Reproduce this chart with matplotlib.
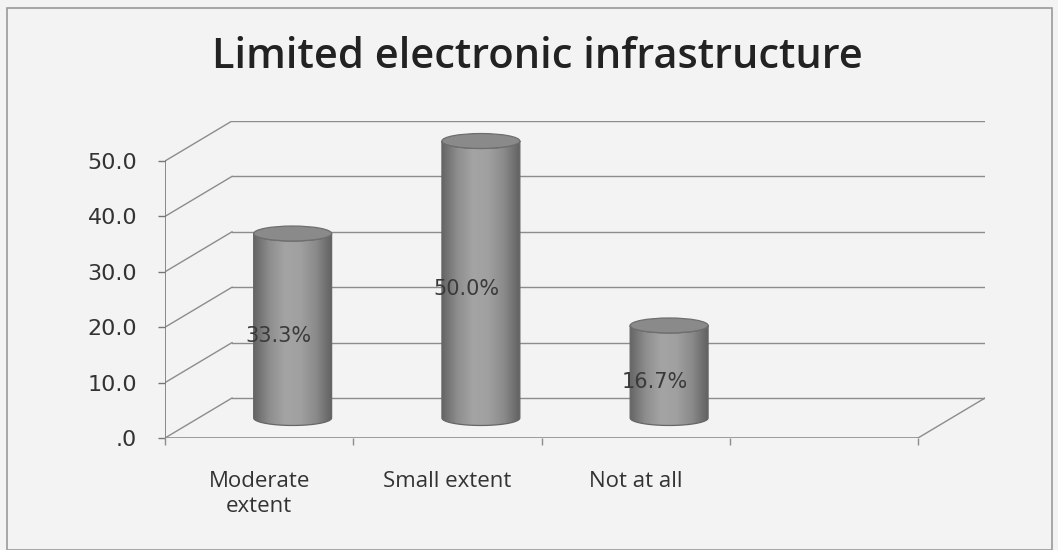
import numpy as np
import matplotlib
matplotlib.use("Agg")
import matplotlib.pyplot as plt
from matplotlib.patches import Polygon, Ellipse, Rectangle
from matplotlib.colors import LinearSegmentedColormap

# data
categories = ["Moderate\nextent", "Small extent", "Not at all"]
values = [33.3, 50.0, 16.7]
value_labels = ["33.3%", "50.0%", "16.7%"]
y_ticks = [0, 10, 20, 30, 40, 50]
y_tick_labels = [".0", "10.0", "20.0", "30.0", "40.0", "50.0"]
title = "Limited electronic infrastructure"

n_slots = 4          # the chart keeps an empty fourth slot
depth_x = 0.356      # 3D depth offset in category units
depth_y = 7.22       # 3D depth offset in value units
cyl_half_w = 0.207
cyl_ell = 1.35

W, H = 1058, 550
fig = plt.figure(figsize=(W / 100, H / 100), dpi=100)
fig.patch.set_facecolor("#f3f3f3")

# outer frame
fig.patches.append(Rectangle((7 / W, 0), (1052 - 7) / W, (H - 8) / H,
                             transform=fig.transFigure, fill=False,
                             edgecolor="#9a9a9a", lw=1.2))

x0, y0, px_cat, px_val = 165, 438, 188.25, 5.54
xmax = n_slots + depth_x
ymax = 50 + depth_y
ax = fig.add_axes([x0 / W, (H - y0) / H, xmax * px_cat / W, ymax * px_val / H])
ax.set_facecolor("none")
for s in ax.spines.values():
    s.set_visible(False)

grid_c = "#8c8c8c"
# back wall gridlines and left wall diagonals
for v in y_ticks:
    ax.plot([depth_x, n_slots + depth_x], [v + depth_y, v + depth_y], color=grid_c, lw=1, zorder=1)
    ax.plot([0, depth_x], [v, v + depth_y], color=grid_c, lw=1, zorder=1)
# floor and front axis
ax.plot([0, n_slots], [0, 0], color=grid_c, lw=1.2, zorder=1)
ax.plot([n_slots, n_slots + depth_x], [0, depth_y], color=grid_c, lw=1, zorder=1)
ax.plot([0, 0], [0, 50], color="#777777", lw=1.2, zorder=1)

cmap = LinearSegmentedColormap.from_list(
    "cyl", ["#666666", "#8e8e8e", "#a4a4a4", "#a0a0a0", "#8a8a8a", "#626262"])
grad = np.linspace(0, 1, 200).reshape(1, -1)

t = np.linspace(0, np.pi, 60)
for i, (v, lab) in enumerate(zip(values, value_labels)):
    cx = i + 0.5 + depth_x / 2
    base = depth_y / 2
    top = base + v
    bx = cx - cyl_half_w * np.cos(t)
    by = base - cyl_ell * np.sin(t)
    tx = cx + cyl_half_w * np.cos(t)
    ty = top - cyl_ell * np.sin(t)
    pts = np.column_stack([np.concatenate([bx, tx]), np.concatenate([by, ty])])
    body = Polygon(pts, closed=True, facecolor="none", edgecolor="#666666", lw=0.9, zorder=4)
    ax.add_patch(body)
    im = ax.imshow(grad, cmap=cmap, aspect="auto", zorder=3,
                   extent=(cx - cyl_half_w, cx + cyl_half_w, base - cyl_ell, top + cyl_ell))
    im.set_clip_path(body)
    ax.add_patch(Ellipse((cx, top), 2 * cyl_half_w, 2 * cyl_ell, facecolor="#8a8a8a",
                         edgecolor="#6e6e6e", lw=0.9, zorder=5))
    ax.text(cx - 0.075, base + v / 2 - 1.8, lab, ha="center", va="center",
            fontsize=15, color="#3a3a3a", family="DejaVu Sans", zorder=6)

ax.set_xlim(0, xmax)
ax.set_ylim(0, ymax)

ax.set_yticks(y_ticks)
ax.set_yticklabels(y_tick_labels, family="DejaVu Sans", fontsize=16, color="#333333")
ax.tick_params(axis="y", length=5, width=1, color="#777777", pad=15)

ax.set_xticks(range(n_slots + 1))
ax.set_xticklabels([])
ax.tick_params(axis="x", length=5, width=1, color=grid_c)
ax.set_xticks([i + 0.5 for i in range(len(categories))], minor=True)
ax.set_xticklabels(categories, minor=True, family="Open Sans", fontsize=16,
                   color="#333333", linespacing=1.25)
ax.tick_params(axis="x", which="minor", length=0, pad=24)

fig.text(537 / W, 1 - 57 / H, title, ha="center", va="center",
         family="Open Sans", fontweight="semibold", fontsize=30, color="#222222")

fig.savefig("out.png", dpi=100, facecolor=fig.get_facecolor())
